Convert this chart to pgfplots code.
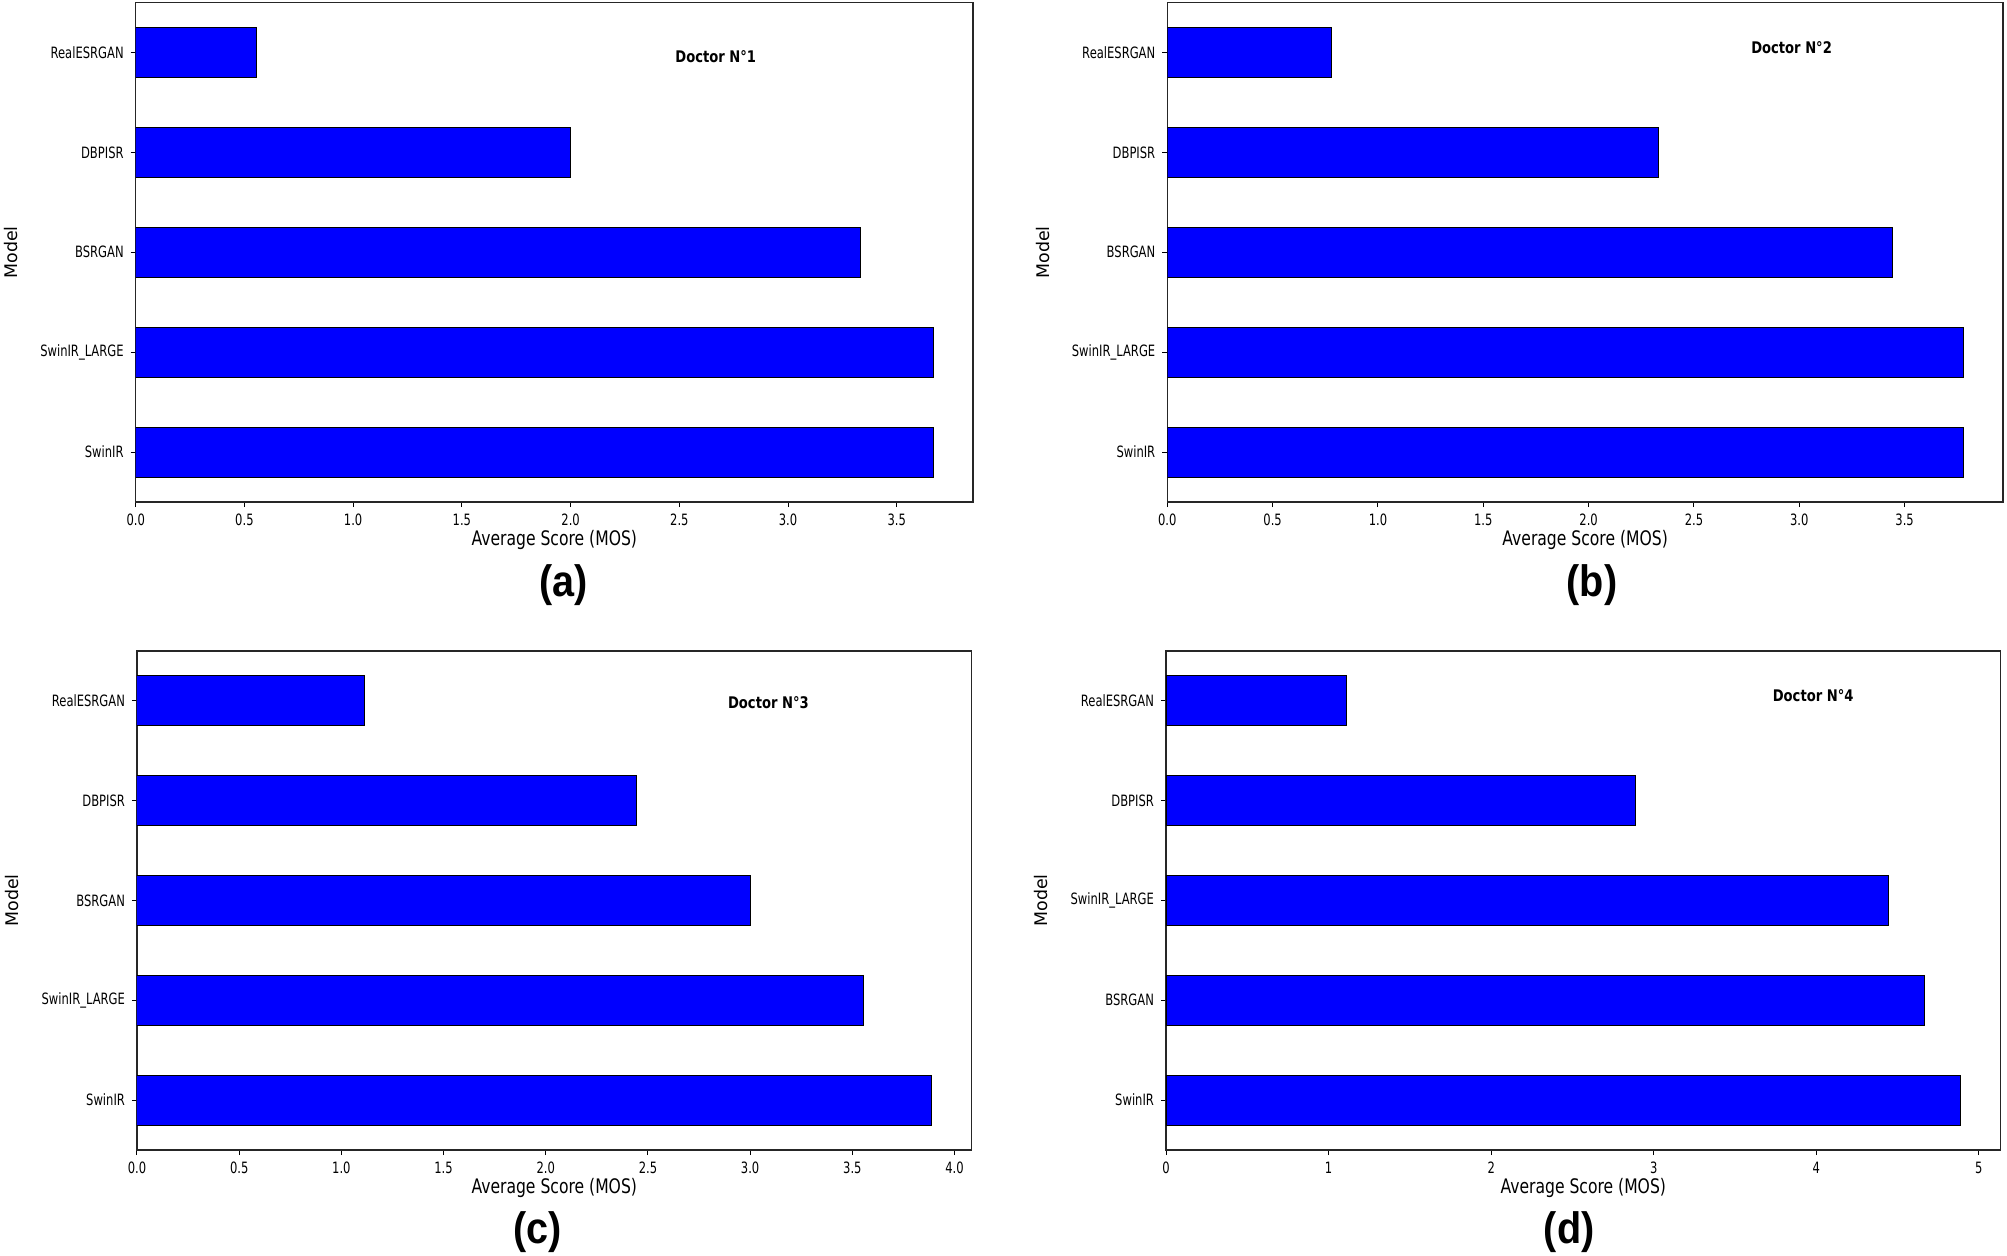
\documentclass[border=0pt]{standalone}
\usepackage{pgfplots}
\pgfplotsset{compat=1.18}
\usepackage{fontspec}
\setmainfont{DejaVu Sans}
\newfontfamily\tickfont{DejaVu Sans}[FakeStretch=0.74]
\newfontfamily\labfont{DejaVu Sans}[FakeStretch=0.78]
\newfontfamily\docfont{DejaVu Sans}[FakeStretch=0.82]
\newfontfamily\capfont{Liberation Sans}[FakeStretch=0.9]
\pgfplotsset{
  panel/.style={
    scale only axis,
    xbar, bar width=0.5,
    ymin=-0.5, ymax=4.5, xmin=0,
    ytick={0,1,2,3,4},
    xtick pos=left, ytick pos=left,
    tick align=outside, major tick length=2.5pt,
    tick style={black, line width=0.5pt},
    axis line style={line width=0.6pt, black!85},
    /pgf/number format/assume math mode=true,
    ticklabel style={font=\tickfont\fontsize{7.8}{8}\selectfont},
    xlabel={Average Score (MOS)},
    ylabel={Model},
    xlabel style={font=\labfont\fontsize{10}{12}\selectfont, at={(axis description cs:0.5,-0.076)}, anchor=center},
    ylabel style={font=\fontsize{8.7}{10}\selectfont, at={(axis description cs:-0.1493,0.5)}, anchor=center},
    cycle list={{fill=blue, draw=black, line width=0.5pt}},
  },
  dec/.style={xticklabel style={/pgf/number format/.cd, fixed, fixed zerofill, precision=1}},
}
\tikzset{doc/.style={anchor=west, inner sep=0pt, font=\docfont\bfseries\fontsize{8}{9}\selectfont}}
\begin{document}
\begin{tikzpicture}
\useasboundingbox (0,0) rectangle (1003.5pt,-627.5pt);
% (a)
\begin{axis}[panel, dec, at={(67.85pt,-1.3pt)}, anchor=north west, width=418.6pt, height=249.7pt,
  xmax=3.85, xtick={0,0.5,1,1.5,2,2.5,3,3.5},
  yticklabels={SwinIR,SwinIR\_LARGE,BSRGAN,DBPISR,RealESRGAN}]
\addplot[fill=blue, draw=black, line width=0.5pt] coordinates {(3.667,0) (3.667,1) (3.333,2) (2.0,3) (0.556,4)};
\node[doc] at (axis cs:2.48,3.955) {Doctor N°1};
\end{axis}
% (b)
\begin{axis}[panel, dec, at={(583.65pt,-1.3pt)}, anchor=north west, width=417.85pt, height=249.7pt,
  xmax=3.967, xtick={0,0.5,1,1.5,2,2.5,3,3.5},
  yticklabels={SwinIR,SwinIR\_LARGE,BSRGAN,DBPISR,RealESRGAN}]
\addplot[fill=blue, draw=black, line width=0.5pt] coordinates {(3.778,0) (3.778,1) (3.444,2) (2.333,3) (0.778,4)};
\node[doc] at (axis cs:2.77,4.05) {Doctor N°2};
\end{axis}
% (c)
\begin{axis}[panel, dec, at={(68.5pt,-325.5pt)}, anchor=north west, width=417.25pt, height=249.5pt,
  xmax=4.083, xtick={0,0.5,1,1.5,2,2.5,3,3.5,4},
  yticklabels={SwinIR,SwinIR\_LARGE,BSRGAN,DBPISR,RealESRGAN}]
\addplot[fill=blue, draw=black, line width=0.5pt] coordinates {(3.889,0) (3.556,1) (3.0,2) (2.444,3) (1.111,4)};
\node[doc] at (axis cs:2.89,3.98) {Doctor N°3};
\end{axis}
% (d)
\begin{axis}[panel, at={(583pt,-325.5pt)}, anchor=north west, width=417.25pt, height=249.5pt,
  xmax=5.133, xtick={0,1,2,3,4,5},
  yticklabels={SwinIR,BSRGAN,SwinIR\_LARGE,DBPISR,RealESRGAN}]
\addplot[fill=blue, draw=black, line width=0.5pt] coordinates {(4.889,0) (4.667,1) (4.444,2) (2.889,3) (1.111,4)};
\node[doc] at (axis cs:3.73,4.05) {Doctor N°4};
\end{axis}
\node[font=\capfont\bfseries\fontsize{22}{24}\selectfont] at (281.6pt,-292.5pt) {(a)};
\node[font=\capfont\bfseries\fontsize{22}{24}\selectfont] at (796pt,-292.5pt) {(b)};
\node[font=\capfont\bfseries\fontsize{22}{24}\selectfont] at (268.8pt,-616pt) {(c)};
\node[font=\capfont\bfseries\fontsize{22}{24}\selectfont] at (784.6pt,-616pt) {(d)};
\end{tikzpicture}
\end{document}
